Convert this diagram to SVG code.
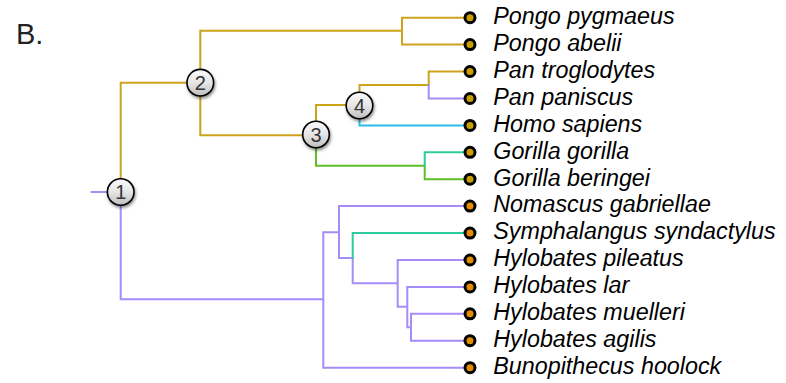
<svg xmlns="http://www.w3.org/2000/svg" width="786" height="383" viewBox="0 0 786 383">
<style>
.l{fill:none;stroke-width:2;stroke-linejoin:miter;stroke-linecap:square}
.gold{stroke:#cda31b}
.pur{stroke:#a68cf6}
.cyan{stroke:#2cbcec}
.teal{stroke:#2ccb9c}
.green{stroke:#62be26}
.dot{stroke:#000;stroke-width:3}
.ape{fill:#c99f00}
.gib{fill:#e28c00}
.lab{font-family:"Liberation Sans",Arial,sans-serif;font-style:italic;font-size:23.3px;fill:#000}
.nc{fill:url(#ng);stroke:#000;stroke-width:1.6;filter:url(#sh)}
.nt{font-family:"Liberation Sans",Arial,sans-serif;font-size:20px;fill:#333;text-anchor:middle}
</style>
<defs>
<linearGradient id="ng" x1="0" y1="0" x2="0" y2="1">
<stop offset="0" stop-color="#fafafa"/>
<stop offset="0.5" stop-color="#e6e6e6"/>
<stop offset="1" stop-color="#bdbdbd"/>
</linearGradient>
<filter id="sh" x="-50%" y="-50%" width="200%" height="200%">
<feDropShadow dx="1" dy="2" stdDeviation="1.5" flood-color="#000" flood-opacity="0.45"/>
</filter>
</defs>
<rect width="786" height="383" fill="#fff"/>
<text x="16" y="44" font-family="Liberation Sans, Arial, sans-serif" font-size="29" fill="#222">B.</text>
<g id="connectors">
<path class="l gold" d="M200.3 82.7V30.7H402M402 17.7V44.6M402 17.7H470M402 44.6H470"/>
<path class="l gold" d="M120.7 192V82.7H200.3"/>
<path class="l gold" d="M200.3 82.7V135.3H316"/>
<path class="l gold" d="M316 135V105H359.5"/>
<path class="l gold" d="M359.5 105.5V85H428.7M428.7 85V71.5H470"/>
<path class="l pur" d="M428.7 85V98.5H470"/>
<path class="l cyan" d="M359.5 105.5V125.4H470"/>
<path class="l green" d="M316 135V165.7H424.7V179.2H470"/>
<path class="l teal" d="M424.7 165.7V152.3H470"/>
<path class="l pur" d="M91.7 192H120.7M120.7 192V299.3H323.3M323.3 232.3V367.7H470M323.3 232.3H339M339 206.1V258M339 206.1H470M339 258H352.7V283.3M352.7 283.3H397.7M397.7 260V306.7M397.7 260H470M397.7 306.7H407.3M407.3 286.9V327.3M407.3 286.9H470M407.3 327.3H411M411 313.8V340.7M411 313.8H470M411 340.7H470"/>
<path class="l teal" d="M352.7 258V233.1H470"/>
</g>
<g id="node1"><circle class="nc" cx="120.7" cy="192" r="13.3"/><text class="nt" x="120.7" y="199">1</text></g>
<g id="node2"><circle class="nc" cx="200.3" cy="82.7" r="13.3"/><text class="nt" x="200.3" y="89.7">2</text></g>
<g id="node3"><circle class="nc" cx="316" cy="134.5" r="13.3"/><text class="nt" x="316" y="141.5">3</text></g>
<g id="node4"><circle class="nc" cx="359.5" cy="105.5" r="13.3"/><text class="nt" x="359.5" y="112.5">4</text></g>
<g id="tip-pongo-pygmaeus"><circle class="dot ape" cx="470" cy="17.7" r="5"/><text class="lab" x="493.3" y="24">Pongo pygmaeus</text></g>
<g id="tip-pongo-abelii"><circle class="dot ape" cx="470" cy="44.6" r="5"/><text class="lab" x="493.3" y="50.9">Pongo abelii</text></g>
<g id="tip-pan-troglodytes"><circle class="dot ape" cx="470" cy="71.5" r="5"/><text class="lab" x="493.3" y="77.8">Pan troglodytes</text></g>
<g id="tip-pan-paniscus"><circle class="dot ape" cx="470" cy="98.5" r="5"/><text class="lab" x="493.3" y="104.8">Pan paniscus</text></g>
<g id="tip-homo-sapiens"><circle class="dot ape" cx="470" cy="125.4" r="5"/><text class="lab" x="493.3" y="131.7">Homo sapiens</text></g>
<g id="tip-gorilla-gorilla"><circle class="dot ape" cx="470" cy="152.3" r="5"/><text class="lab" x="493.3" y="158.6">Gorilla gorilla</text></g>
<g id="tip-gorilla-beringei"><circle class="dot ape" cx="470" cy="179.2" r="5"/><text class="lab" x="493.3" y="185.5">Gorilla beringei</text></g>
<g id="tip-nomascus-gabriellae"><circle class="dot gib" cx="470" cy="206.1" r="5"/><text class="lab" x="493.3" y="212.4">Nomascus gabriellae</text></g>
<g id="tip-symphalangus-syndactylus"><circle class="dot gib" cx="470" cy="233.1" r="5"/><text class="lab" x="493.3" y="239.4">Symphalangus syndactylus</text></g>
<g id="tip-hylobates-pileatus"><circle class="dot gib" cx="470" cy="260" r="5"/><text class="lab" x="493.3" y="266.3">Hylobates pileatus</text></g>
<g id="tip-hylobates-lar"><circle class="dot gib" cx="470" cy="286.9" r="5"/><text class="lab" x="493.3" y="293.2">Hylobates lar</text></g>
<g id="tip-hylobates-muelleri"><circle class="dot gib" cx="470" cy="313.8" r="5"/><text class="lab" x="493.3" y="320.1">Hylobates muelleri</text></g>
<g id="tip-hylobates-agilis"><circle class="dot gib" cx="470" cy="340.7" r="5"/><text class="lab" x="493.3" y="347">Hylobates agilis</text></g>
<g id="tip-bunopithecus-hoolock"><circle class="dot gib" cx="470" cy="367.7" r="5"/><text class="lab" x="493.3" y="374">Bunopithecus hoolock</text></g>
</svg>
